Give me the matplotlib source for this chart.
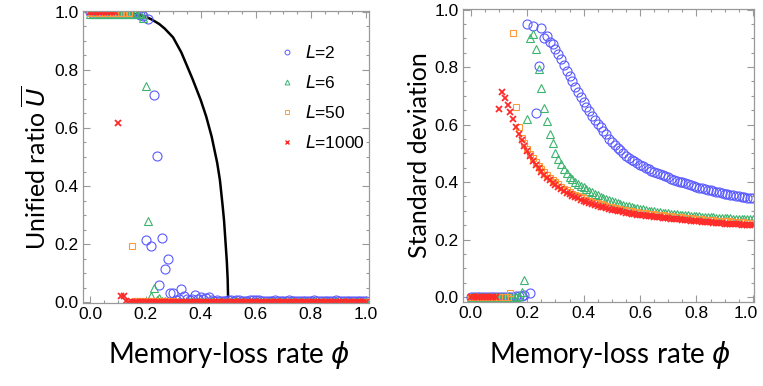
import matplotlib
matplotlib.use("Agg")
import matplotlib.pyplot as plt
from matplotlib import font_manager
from matplotlib.lines import Line2D
from matplotlib.ticker import MultipleLocator, FormatStrFormatter
from matplotlib.transforms import ScaledTranslation

# memory-loss rate grid used by both panels
phi = [round(0.01 * i, 2) for i in range(101)]

# left panel: unified ratio U
u_L2 = [1.0] * 17 + [
    0.995, 0.99, 0.985, 0.214, 0.975, 0.193, 0.714, 0.503, 0.059, 0.222,
    0.114, 0.147, 0.030, 0.032, 0.007, 0.012, 0.045, 0.022, 0.010, 0.008,
    0.012, 0.024, 0.012, 0.017, 0.010, 0.014, 0.017, 0.008, 0.005, 0.006,
    0.004, 0.005, 0.004, 0.006,
    0.008, 0.005, 0.006, 0.007, 0.004, 0.005, 0.003, 0.006, 0.008, 0.009,
    0.007, 0.005, 0.004, 0.003, 0.005, 0.004, 0.006, 0.004, 0.003, 0.004,
    0.005, 0.006, 0.004, 0.003, 0.004, 0.003, 0.005, 0.004, 0.003, 0.004,
    0.006, 0.005, 0.003, 0.004, 0.003, 0.003, 0.004, 0.005, 0.006, 0.004,
    0.003, 0.004, 0.003, 0.004, 0.005, 0.004, 0.003, 0.003, 0.004, 0.003]
u_L6 = [0.994] * 19 + [0.978, 0.745, 0.28, 0.022, 0.049, 0.006, 0.015,
                       0.004, 0.003, 0.002, 0.002] + [0.0] * 71
u_L50 = [0.997] * 15 + [0.194] + [0.004] * 15 + [0.0] * 70
u_L1000 = [1.0] * 10 + [0.616, 0.022, 0.022, 0.005] + [0.0] * 87

# black mean-field curve
curve_phi = [0.0, 0.1, 0.15, 0.2, 0.22, 0.25, 0.27, 0.3, 0.33, 0.35, 0.37,
             0.4, 0.42, 0.44, 0.45, 0.46, 0.47, 0.48, 0.485, 0.49, 0.495,
             0.498, 0.5, 1.0]
curve_u = [1.0, 0.999, 0.995, 0.983, 0.975, 0.958, 0.942, 0.912, 0.86, 0.815,
           0.77, 0.697, 0.64, 0.57, 0.525, 0.48, 0.42, 0.33, 0.28, 0.21,
           0.14, 0.08, 0.0, 0.0]

# right panel: standard deviation
s_L2 = [0.0] * 15 + [
    0.002, 0.003, 0.004, 0.005, 0.007, 0.95, 0.015, 0.944, 0.639, 0.803,
    0.937, 0.90, 0.908, 0.886, 0.879, 0.862, 0.844, 0.827, 0.807, 0.787,
    0.769, 0.751, 0.731, 0.714, 0.695,
    0.678, 0.662, 0.646, 0.631, 0.617, 0.603, 0.590, 0.578, 0.566,
    0.550, 0.540, 0.530, 0.520, 0.510, 0.500,
    0.492, 0.485, 0.478, 0.472, 0.466, 0.461, 0.456, 0.450, 0.445, 0.440, 0.436,
    0.432, 0.428, 0.424, 0.420, 0.416, 0.412, 0.408, 0.405, 0.402, 0.399,
    0.396, 0.393, 0.390, 0.387, 0.384,
    0.381, 0.378, 0.375, 0.373, 0.371, 0.368, 0.366, 0.364, 0.362, 0.360,
    0.358, 0.356, 0.354, 0.352, 0.350, 0.349, 0.347, 0.346, 0.345, 0.344]
s_L6 = [0.0] * 16 + [
    0.002, 0.004, 0.018, 0.059, 0.618, 0.90, 0.914, 0.862, 0.792, 0.726,
    0.656, 0.612, 0.569, 0.535, 0.502,
    0.482, 0.463, 0.447, 0.432, 0.419, 0.410, 0.402, 0.395, 0.388, 0.382,
    0.376, 0.370, 0.364, 0.359, 0.354, 0.349, 0.345, 0.341, 0.337, 0.333,
    0.330, 0.327, 0.324, 0.321, 0.318, 0.316, 0.313, 0.311, 0.309, 0.307,
    0.305, 0.303, 0.301, 0.300, 0.298, 0.297, 0.295, 0.294, 0.293, 0.291,
    0.290, 0.289, 0.288, 0.287, 0.286, 0.285, 0.284, 0.283, 0.282, 0.281,
    0.281, 0.280, 0.279, 0.278, 0.278, 0.277, 0.276, 0.276, 0.275, 0.275,
    0.274, 0.274, 0.273, 0.273, 0.272, 0.272, 0.271, 0.271, 0.270, 0.270]
s_L50 = [0.0] * 14 + [
    0.015, 0.92, 0.66, 0.59, 0.555, 0.535, 0.514,
    0.498, 0.484, 0.470, 0.457, 0.445, 0.434, 0.424, 0.415, 0.407, 0.399,
    0.392, 0.384, 0.377, 0.371, 0.365, 0.360, 0.355, 0.351, 0.347, 0.343,
    0.339, 0.335, 0.332, 0.329, 0.326, 0.323, 0.320, 0.317, 0.315, 0.312,
    0.310, 0.308, 0.306, 0.304, 0.302, 0.300, 0.298, 0.297, 0.295, 0.294,
    0.292, 0.291, 0.290, 0.289, 0.288, 0.287, 0.285, 0.284, 0.283, 0.282,
    0.281, 0.280, 0.279, 0.278, 0.277, 0.276, 0.275, 0.274, 0.273, 0.272,
    0.271, 0.270, 0.269, 0.268, 0.268, 0.267, 0.266, 0.265, 0.265, 0.264,
    0.263, 0.263, 0.262, 0.261, 0.261, 0.260, 0.260, 0.259, 0.259, 0.258]
s_L1000 = [0.0] * 10 + [
    0.654, 0.714, 0.691, 0.668, 0.645, 0.618, 0.592, 0.569, 0.546, 0.525, 0.508,
    0.490, 0.475, 0.461, 0.448, 0.436, 0.425, 0.415, 0.406, 0.398, 0.391,
    0.384, 0.376, 0.369, 0.363, 0.357, 0.352, 0.347, 0.343, 0.339, 0.335,
    0.331, 0.327, 0.324, 0.321, 0.318, 0.315, 0.312, 0.309, 0.307, 0.304,
    0.302, 0.300, 0.298, 0.296, 0.294, 0.292, 0.290, 0.289, 0.287, 0.286,
    0.284, 0.283, 0.282, 0.281, 0.280, 0.279, 0.277, 0.276, 0.275, 0.274,
    0.273, 0.272, 0.271, 0.270, 0.269, 0.268, 0.267, 0.266, 0.265, 0.264,
    0.263, 0.262, 0.261, 0.260, 0.260, 0.259, 0.258, 0.257, 0.257, 0.256,
    0.255, 0.255, 0.254, 0.253, 0.253, 0.252, 0.252, 0.251, 0.251, 0.250]

labels = ["2", "6", "50", "1000"]
colors = ["#5a5aff", "#3cb36e", "#ff9a3c", "#ff2a2a"]
markers = ["o", "^", "s", "x"]
sizes = [6.5, 6.0, 5.0, 4.5]

plt.rcParams["mathtext.fontset"] = "dejavusans"
label_font = ["Lato", "DejaVu Sans"]
tick_font = ["Liberation Sans", "DejaVu Sans"]
tick_size = 12.5

fig = plt.figure(figsize=(7.63, 3.86), dpi=100)
ax1 = fig.add_axes([0.1088, 0.2150, 0.3748, 0.7565])
ax2 = fig.add_axes([0.6068, 0.2176, 0.3814, 0.7591])


def draw_series(ax, series):
    for vals, c, m, s in zip(series, colors, markers, sizes):
        x = phi[:len(vals)]
        if m == "x":
            ax.plot(x, vals, linestyle="none", marker=m, ms=s, mec=c, mew=1.3)
        else:
            ax.plot(x, vals, linestyle="none", marker=m, ms=s, mfc="none",
                    mec=c, mew=0.8)


ax1.plot(curve_phi, curve_u, color="black", lw=1.8, zorder=1)
draw_series(ax1, [u_L2, u_L6, u_L50, u_L1000])
draw_series(ax2, [s_L2, s_L6, s_L50, s_L1000])

ax1.set_xlim(-0.027, 1.011)
ax1.set_ylim(-0.003, 1.003)
ax2.set_xlim(-0.028, 1.004)
ax2.set_ylim(-0.017, 1.002)

for ax in (ax1, ax2):
    ax.xaxis.set_major_locator(MultipleLocator(0.2))
    ax.xaxis.set_minor_locator(MultipleLocator(0.05))
    ax.yaxis.set_major_locator(MultipleLocator(0.2))
    ax.yaxis.set_minor_locator(MultipleLocator(0.05))
    ax.xaxis.set_major_formatter(FormatStrFormatter("%.1f"))
    ax.yaxis.set_major_formatter(FormatStrFormatter("%.1f"))
    ax.tick_params(which="both", direction="in", top=True, right=True,
                   color="#999999", width=0.8, pad=3)
    ax.tick_params(which="major", length=5)
    ax.tick_params(which="minor", length=2.5)
    for sp in ax.spines.values():
        sp.set_color("#999999")
        sp.set_linewidth(0.9)
    for lab in ax.get_xticklabels() + ax.get_yticklabels():
        lab.set_family(tick_font)
        lab.set_fontsize(tick_size)

# legend
handles = []
for c, m in zip(colors, markers):
    if m == "x":
        handles.append(Line2D([], [], linestyle="none", marker=m, ms=3,
                              mec=c, mew=1.0))
    else:
        handles.append(Line2D([], [], linestyle="none", marker=m, ms=3.5,
                              mfc="none", mec=c, mew=0.7))
leg = ax1.legend(handles, ["$L$=" + l for l in labels], loc="center left",
                 bbox_to_anchor=(0.654, 0.705), frameon=False,
                 handlelength=1.0, handletextpad=0.5, borderpad=0,
                 labelspacing=0.75, prop={"family": tick_font, "size": 12.5})

fig.text(0.300, 0.080, "Memory-loss rate $\\phi$", ha="center", va="center",
         family=label_font, fontsize=20)
fig.text(0.799, 0.080, "Memory-loss rate $\\phi$", ha="center", va="center",
         family=label_font, fontsize=20)
fig.text(0.046, 0.565, "Unified ratio $\\overline{U}$", ha="center",
         va="center", rotation=90, family=label_font, fontsize=18)
fig.text(0.550, 0.598, "Standard deviation", ha="center", va="center",
         rotation=90, family=label_font, fontsize=18)

# nudge the right panel's last x label so it stays inside the figure
fig.canvas.draw()
for t in ax2.xaxis.get_major_ticks():
    if abs(t.get_loc() - 1.0) < 1e-6:
        t.label1.set_transform(t.label1.get_transform()
                               + ScaledTranslation(-5 / 72, 0, fig.dpi_scale_trans))

fig.savefig("out.png", dpi=100)
